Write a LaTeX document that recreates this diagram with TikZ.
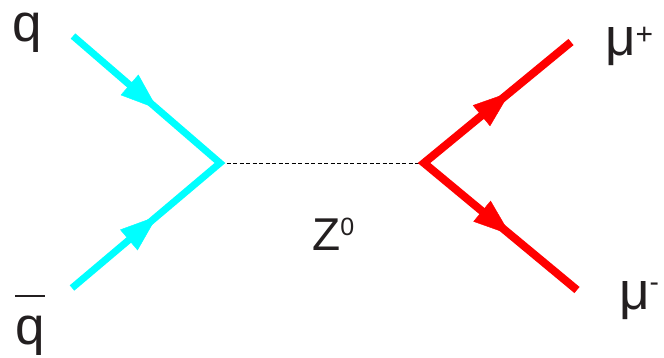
\documentclass[tikz,border=0pt]{standalone}
\usepackage{fontspec}
\setmainfont{Liberation Sans}
\usetikzlibrary{arrows.meta,decorations.markings}
\definecolor{txt}{HTML}{231F20}
\definecolor{quark}{RGB}{0,255,255}
\definecolor{muon}{RGB}{255,0,0}
\begin{document}
\begin{tikzpicture}[x=1pt,y=-1pt,
  lbl/.style={font=\fontsize{53}{60}\selectfont, text=txt, inner sep=0pt, anchor=base west},
  zlbl/.style={font=\fontsize{46}{54}\selectfont, text=txt, inner sep=0pt, anchor=base west},
  fermion/.style={line width=7pt, line join=miter, line cap=butt},
  arrowat/.style={postaction={decorate}, decoration={markings,
      mark=at position #1 with {\arrow{Triangle[length=37pt,width=27pt]}}}},
  boson/.style={line width=1pt, dash pattern=on 4pt off 2.5pt, draw=black},
]
\useasboundingbox (0,0) rectangle (664,357);

% vertices and external points
\coordinate (v1) at (220,163);
\coordinate (v2) at (424,163);
\coordinate (qin) at (73,36);
\coordinate (qbin) at (72,288);
\coordinate (mup) at (571,42);
\coordinate (mum) at (577,290);

% propagator
\draw[boson] (v1) -- (v2);

% quark lines
\draw[fermion, quark] (qin) -- (v1) -- (qbin);
\path[quark] (qin) -- (v1) [arrowat=0.575];
\path[quark] (qbin) -- (v1) [arrowat=0.575];

% muon lines
\draw[fermion, muon, line width=8pt] (mup) -- (v2) -- (mum);
\path[muon] (v2) -- (mup) [arrowat=0.585];
\path[muon] (v2) -- (mum) [arrowat=0.565];

% labels
\node[lbl] (lq) at (12,41) {q};
\node[lbl] (lqb) at (15,344) {\makebox[0pt][l]{\rule[47pt]{30pt}{2pt}}q};
\node[lbl] (lmup) at (605,55) {μ\raisebox{11pt}{\fontsize{30}{30}\selectfont +}};
\node[lbl] (lmum) at (619,309) {μ\raisebox{18pt}{\fontsize{28}{28}\selectfont -}};
\node[zlbl] (lz) at (312,250) {Z\raisebox{15pt}{\fontsize{25}{25}\selectfont 0}};
\end{tikzpicture}
\end{document}
